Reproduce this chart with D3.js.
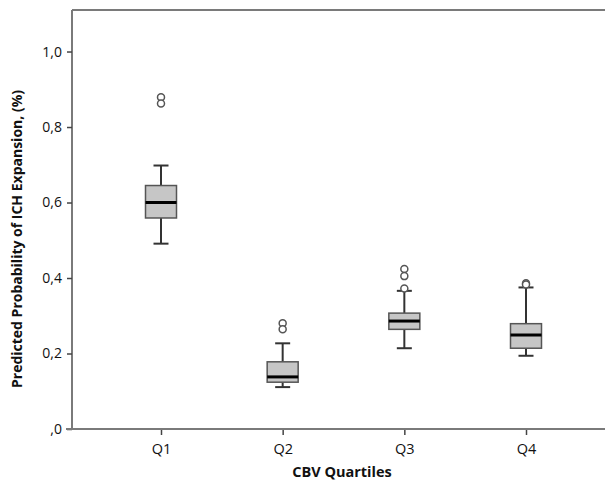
<html>
<script src="https://d3js.org/d3.v7.min.js"></script>
<style>
  body { margin: 0; background: white; }
  text { font-family: "Open Sans", "Liberation Sans", sans-serif; fill: #111; }
</style>
<body>
<svg id="chart" width="605" height="481"></svg>
<script>
// chart values
const categories = ["Q1", "Q2", "Q3", "Q4"];
const lowerWhisker = [0.491, 0.111, 0.214, 0.194];
const lowerQuartile = [0.559, 0.124, 0.264, 0.214];
const medians = [0.600, 0.138, 0.286, 0.249];
const upperQuartile = [0.645, 0.178, 0.307, 0.279];
const upperWhisker = [0.698, 0.227, 0.366, 0.375];
const outliers = [[0.879, 0.862], [0.280, 0.264], [0.424, 0.405, 0.372], [0.386, 0.383]];
const yTicks = [0, 0.2, 0.4, 0.6, 0.8, 1.0];

const svg = d3.select("#chart");
const plotLeft = 72, plotRight = 605, plotTop = 10, plotBottom = 429;

const x = d3.scalePoint().domain(categories).range([161, 526]);
const y = d3.scaleLinear().domain([0, 1.11]).range([plotBottom, plotTop]);

const boxW = 31, capW = 15;
const axisGray = "#7a7a7a";

// frame lines: left, top
svg.append("line").attr("x1", plotLeft).attr("x2", plotLeft).attr("y1", plotTop).attr("y2", plotBottom)
  .attr("stroke", axisGray).attr("stroke-width", 2);
svg.append("line").attr("x1", plotLeft).attr("x2", plotRight).attr("y1", plotTop).attr("y2", plotTop)
  .attr("stroke", axisGray).attr("stroke-width", 2);

// Y axis
const yAxis = svg.append("g")
  .attr("transform", "translate(" + plotLeft + ",0)")
  .call(d3.axisLeft(y).tickValues(yTicks).tickSize(5).tickPadding(5)
    .tickFormat(d => d === 0 ? ",0" : d3.format(".1f")(d).replace(".", ",")));
yAxis.select(".domain").remove();
yAxis.selectAll(".tick line").attr("stroke", "#444").attr("stroke-width", 1.5);
yAxis.selectAll(".tick text").style("font-size", "14px").attr("fill", "#111")
  .style("font-family", "'Open Sans', sans-serif");

// X axis
const xAxis = svg.append("g")
  .attr("transform", "translate(0," + plotBottom + ")")
  .call(d3.axisBottom(x).tickSize(6).tickPadding(9));
xAxis.select(".domain").remove();
svg.append("line").attr("x1", plotLeft - 6).attr("x2", plotRight).attr("y1", plotBottom).attr("y2", plotBottom)
  .attr("stroke", axisGray).attr("stroke-width", 2);
xAxis.selectAll(".tick line").attr("stroke", "#444").attr("stroke-width", 1.5);
xAxis.selectAll(".tick text").style("font-size", "14.5px").attr("fill", "#111")
  .style("font-family", "'Open Sans', sans-serif");

// boxes
const boxes = svg.append("g").selectAll("g").data(categories).enter().append("g");

boxes.append("line")
  .attr("x1", d => x(d)).attr("x2", d => x(d))
  .attr("y1", (d, i) => y(upperWhisker[i])).attr("y2", (d, i) => y(upperQuartile[i]))
  .attr("stroke", "#333").attr("stroke-width", 2);
boxes.append("line")
  .attr("x1", d => x(d)).attr("x2", d => x(d))
  .attr("y1", (d, i) => y(lowerQuartile[i])).attr("y2", (d, i) => y(lowerWhisker[i]))
  .attr("stroke", "#333").attr("stroke-width", 2);
boxes.append("line")
  .attr("x1", d => x(d) - capW / 2).attr("x2", d => x(d) + capW / 2)
  .attr("y1", (d, i) => y(upperWhisker[i])).attr("y2", (d, i) => y(upperWhisker[i]))
  .attr("stroke", "#333").attr("stroke-width", 2);
boxes.append("line")
  .attr("x1", d => x(d) - capW / 2).attr("x2", d => x(d) + capW / 2)
  .attr("y1", (d, i) => y(lowerWhisker[i])).attr("y2", (d, i) => y(lowerWhisker[i]))
  .attr("stroke", "#333").attr("stroke-width", 2);
boxes.append("rect")
  .attr("x", d => x(d) - boxW / 2).attr("width", boxW)
  .attr("y", (d, i) => y(upperQuartile[i]))
  .attr("height", (d, i) => y(lowerQuartile[i]) - y(upperQuartile[i]))
  .attr("fill", "#c6c6c6").attr("stroke", "#555").attr("stroke-width", 1.5);
boxes.append("line")
  .attr("x1", d => x(d) - boxW / 2).attr("x2", d => x(d) + boxW / 2)
  .attr("y1", (d, i) => y(medians[i])).attr("y2", (d, i) => y(medians[i]))
  .attr("stroke", "#000").attr("stroke-width", 3);

// outliers
boxes.each(function(d, i) {
  d3.select(this).selectAll("circle").data(outliers[i]).enter().append("circle")
    .attr("cx", x(d)).attr("cy", v => y(v)).attr("r", 3.5)
    .attr("fill", "white").attr("stroke", "#555").attr("stroke-width", 1.5);
});

// axis titles
svg.append("text")
  .attr("transform", "translate(22,239) rotate(-90)")
  .attr("text-anchor", "middle")
  .style("font-size", "14px").style("font-weight", "bold")
  .text("Predicted Probability of ICH Expansion, (%)");
svg.append("text")
  .attr("x", 342).attr("y", 477)
  .attr("text-anchor", "middle")
  .style("font-size", "14.5px").style("font-weight", "bold")
  .text("CBV Quartiles");
</script>
</body>
</html>
